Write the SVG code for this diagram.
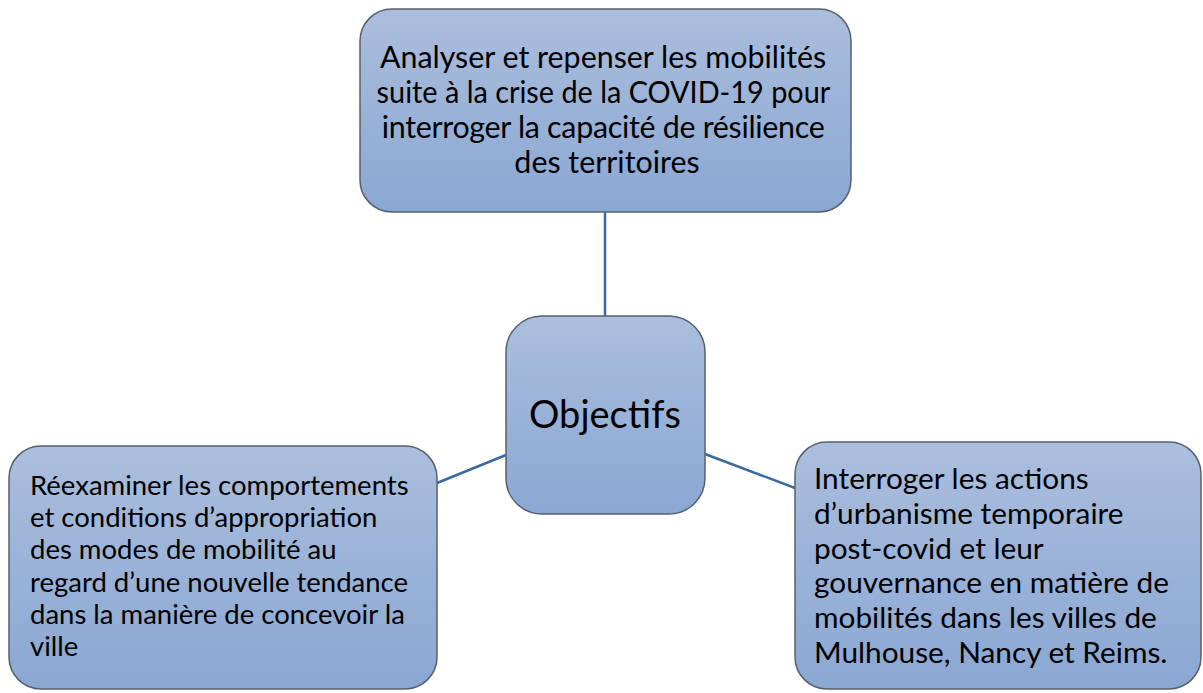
<svg xmlns="http://www.w3.org/2000/svg" width="1203" height="693" viewBox="0 0 1203 693">
<defs>
<linearGradient id="g" x1="0" y1="0" x2="0" y2="1">
<stop offset="0" stop-color="#abbedd"/>
<stop offset="1" stop-color="#8aa7d3"/>
</linearGradient>
<style>
.box{fill:url(#g);stroke:#56606e;stroke-width:1.5}
.t{font-family:Lato,"Liberation Sans",sans-serif;fill:#000}
.c{stroke:#3c6aa0;stroke-width:2.5;fill:none}
</style>
</defs>
<rect width="1203" height="693" fill="#fff"/>
<g id="connectors">
<line class="c" x1="605" y1="212" x2="605" y2="316"/>
<line class="c" x1="437" y1="483" x2="506" y2="455"/>
<line class="c" x1="705" y1="454" x2="795" y2="488"/>
</g>
<g id="top">
<rect class="box" x="360" y="9" width="491" height="203" rx="32"/>
<text class="t" font-size="30.4" text-anchor="middle">
<tspan x="607" y="68">Analyser et repenser les mobilités</tspan>
<tspan x="607" y="103" textLength="453" lengthAdjust="spacingAndGlyphs">suite à la crise de la COVID-19 pour</tspan>
<tspan x="607" y="138" textLength="443" lengthAdjust="spacing">interroger la capacité de résilience</tspan>
<tspan x="607" y="173">des territoires</tspan>
</text>
</g>
<g id="center">
<rect class="box" x="506" y="316" width="199" height="198" rx="36"/>
<text class="t" font-size="38" text-anchor="middle" x="605" y="428">Objectifs</text>
</g>
<g id="left">
<rect class="box" x="9" y="446" width="428" height="243" rx="32"/>
<text class="t" font-size="27.5">
<tspan x="30" y="495">Réexaminer les comportements</tspan>
<tspan x="30" y="527">et conditions d’appropriation</tspan>
<tspan x="30" y="559">des modes de mobilité au</tspan>
<tspan x="30" y="592">regard d’une nouvelle tendance</tspan>
<tspan x="30" y="624">dans la manière de concevoir la</tspan>
<tspan x="30" y="656">ville</tspan>
</text>
</g>
<g id="right">
<rect class="box" x="795" y="442" width="406" height="247" rx="32"/>
<text class="t" font-size="29.8">
<tspan x="814" y="489">Interroger les actions</tspan>
<tspan x="814" y="524">d’urbanisme temporaire</tspan>
<tspan x="814" y="559">post-covid et leur</tspan>
<tspan x="814" y="593">gouvernance en matière de</tspan>
<tspan x="814" y="628">mobilités dans les villes de</tspan>
<tspan x="814" y="663">Mulhouse, Nancy et Reims.</tspan>
</text>
</g>
</svg>
